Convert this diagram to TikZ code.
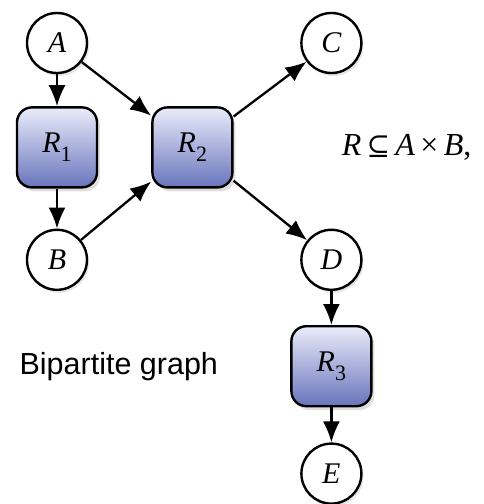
\documentclass[tikz,border=0pt]{standalone}
\usepackage{fontspec}
\setmainfont{Liberation Serif}
\newfontfamily\labelfont{Liberation Sans}
\newfontfamily\symfont{DejaVu Serif}
\usetikzlibrary{arrows.meta,positioning,shadows}

\definecolor{boxtop}{RGB}{234,236,250}
\definecolor{boxbot}{RGB}{104,116,188}

% relation name with a lowered index
\newcommand{\relname}[1]{\textit{R}\raisebox{-0.3em}{\fontsize{22}{22}\selectfont #1}}

\begin{document}
\begin{tikzpicture}[
  x=1pt, y=1pt,
  font=\fontsize{30}{32}\selectfont,
  >={Latex[length=21pt,width=17pt]},
  setnode/.style={
    circle, draw, line width=2.4pt, fill=white,
    minimum size=60pt, inner sep=0pt, font=\fontsize{30}{32}\selectfont\itshape,
    drop shadow={shadow xshift=2pt, shadow yshift=-3pt, opacity=.2}
  },
  relbox/.style={
    draw, line width=2.4pt, rounded corners=15pt,
    top color=boxtop, bottom color=boxbot,
    minimum width=80pt, minimum height=80pt, inner sep=0pt,
    drop shadow={shadow xshift=3pt, shadow yshift=-4pt, opacity=.25}
  },
  arr/.style={->, line width=2.3pt}
]
\useasboundingbox (-57,-461) rectangle (426,43);

% sets on the left
\node[setnode] (A) at (0,0) {A};
\node[relbox, below=32pt of A] (R1) {\relname{1}};
\node[setnode, below=40pt of R1] (B) {B};

% middle relation
\node[relbox, right=53pt of R1] (R2) {\relname{2}};

% sets on the right
\node[setnode, right=212pt of A] (C) {C};
\node[setnode, right=212pt of B] (D) {D};
\node[relbox, below=34pt of D] (R3) {\relname{3}};
\node[setnode, below=35pt of R3] (E) {E};

% Arrows
\draw[arr] (A) -- (R1);
\draw[arr] (R1) -- (B);
\draw[arr] (A) -- (R2);
\draw[arr] (B) -- (R2);
\draw[arr] (R2) -- (C);
\draw[arr] (R2) -- (D);
\draw[arr] (D) -- (R3);
\draw[arr] (R3) -- (E);

% Labels
\node[right=108pt of R2, inner sep=0pt, font=\fontsize{32}{36}\selectfont] (rel)
  {\textit{R}\,{\symfont\fontsize{28}{32}\selectfont ⊆}\,\textit{A}\,×\,\textit{B},};
\node[left=72pt of R3, inner sep=0pt, font=\labelfont\fontsize{30.5}{34}\selectfont] (bip) {Bipartite graph};

\end{tikzpicture}
\end{document}
